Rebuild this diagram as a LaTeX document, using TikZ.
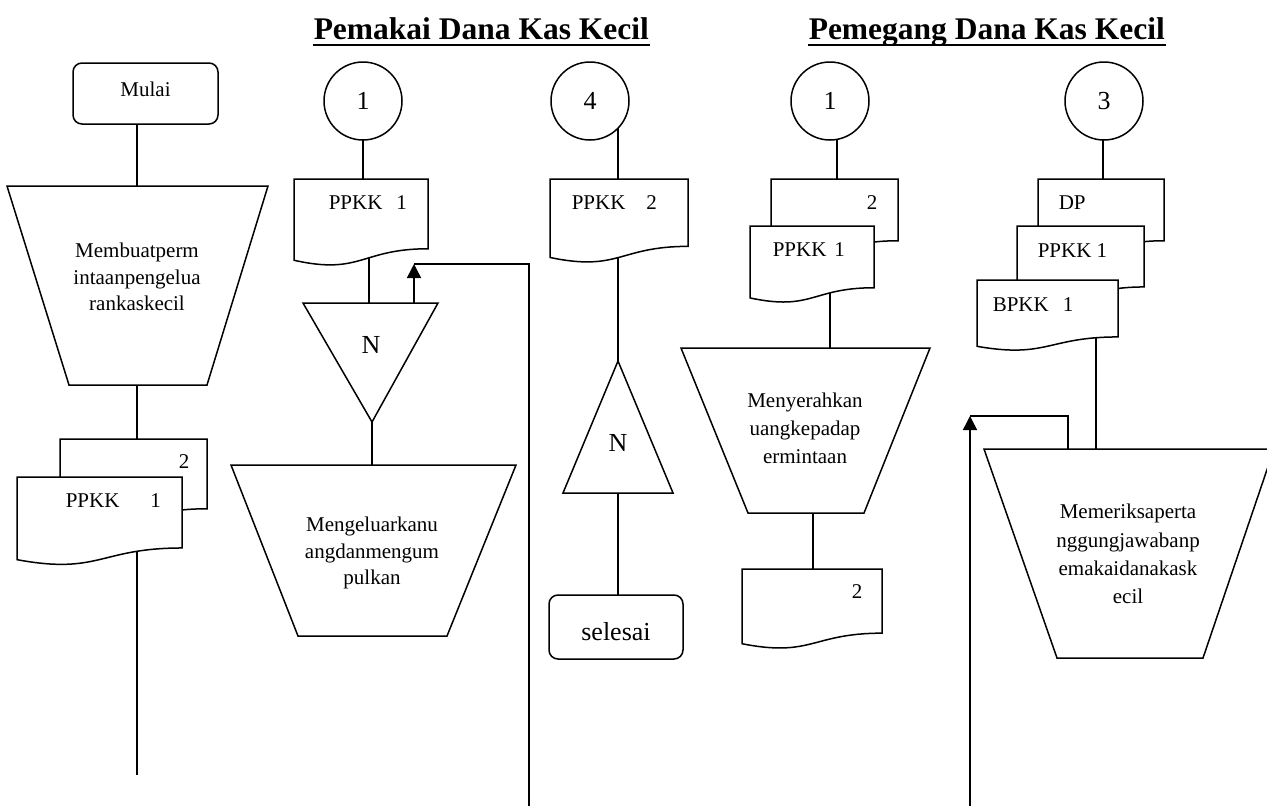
\documentclass[tikz,border=0pt]{standalone}
\usepackage{fontspec}
\setmainfont{Liberation Serif}
\usetikzlibrary{arrows.meta}

% document sheet with a wavy lower edge: top-left x, top y, width, height
\newcommand\docsheet[4]{%
  \draw[shp] (#1,#2) -- ({#1+#3},#2) -- ({#1+#3},{#2+0.802*#4})
    .. controls ({#1+0.5*#3},{#2+0.802*#4}) and ({#1+0.5*#3},{#2+1.107*#4}) ..
    (#1,{#2+0.934*#4}) -- cycle;}

\begin{document}
\begin{tikzpicture}[x=1pt,y=-1pt,line width=1.5pt,
  shp/.style={draw,fill=white},
  txt/.style={font=\fontsize{21}{27.5}\selectfont,inner sep=0pt},
  txta/.style={font=\fontsize{21}{26.5}\selectfont,inner sep=0pt,align=center},
  txtb/.style={font=\fontsize{21}{28.3}\selectfont,inner sep=0pt,align=center},
  big/.style={font=\fontsize{26}{30}\selectfont,inner sep=0pt},
  head/.style={font=\fontsize{31.5}{36}\selectfont\bfseries,inner sep=0pt},
  upflow/.style={-{Triangle[length=14pt,width=14pt]}}]
\clip (0,0) rectangle (1267,806);

% ---------- connection points ----------
% left column
\coordinate (m-b)   at (137,124);
\coordinate (t1-t)  at (137,186);
\coordinate (t1-b)  at (137,385);
\coordinate (d1-t)  at (137,439);
\coordinate (d1-b)  at (137,540);
\coordinate (e1)    at (137,775);
% Pemakai, first flow
\coordinate (c2-b)  at (363,140);
\coordinate (d2-t)  at (363,179);
\coordinate (d2-b)  at (369,230);
\coordinate (n1-t)  at (369,303);
\coordinate (n1-b)  at (372,422);
\coordinate (t2-t)  at (372,465);
\coordinate (r1-s)  at (414,303);
\coordinate (r1-c)  at (414,264);
\coordinate (r1-e)  at (529,806);
% Pemakai, second flow
\coordinate (c3-b)  at (618,115);
\coordinate (d3-t)  at (618,179);
\coordinate (d3-b)  at (618,230);
\coordinate (n2-t)  at (618,361);
\coordinate (n2-b)  at (618,493);
\coordinate (s-t)   at (618,595);
% Pemegang, first flow
\coordinate (c4-b)  at (837,125);
\coordinate (d4-t)  at (837,179);
\coordinate (d4-b)  at (830,280);
\coordinate (t3-t)  at (830,348);
\coordinate (t3-b)  at (813,513);
\coordinate (d5-t)  at (813,569);
% Pemegang, second flow
\coordinate (c5-b)  at (1103,140);
\coordinate (d6-t)  at (1103,179);
\coordinate (d6-b)  at (1096,320);
\coordinate (t4-t)  at (1096,449);
\coordinate (r2-s)  at (970,806);
\coordinate (r2-c)  at (970,416);
\coordinate (r2-e)  at (1068,449);

% ---------- connectors ----------
\draw (m-b) -- (t1-t);
\draw (t1-b) -- (d1-t);
\draw (d1-b) -- (e1);
\draw (c2-b) -- (d2-t);
\draw (d2-b) -- (n1-t);
\draw (n1-b) -- (t2-t);
\draw (r1-e) |- (r1-c);
\draw[upflow] (r1-s) -- (r1-c);
\draw (c3-b) -- (d3-t);
\draw (d3-b) -- (n2-t);
\draw (n2-b) -- (s-t);
\draw (c4-b) -- (d4-t);
\draw (d4-b) -- (t3-t);
\draw (t3-b) -- (d5-t);
\draw (c5-b) -- (d6-t);
\draw (d6-b) -- (t4-t);
\draw (r2-e) |- (r2-c);
\draw[upflow] (r2-s) -- (r2-c);

% ---------- headings ----------
\node[head,anchor=base west] (h1) at (313,39) {Pemakai Dana Kas Kecil};
\draw[line width=2pt] ([yshift=-6pt]h1.base west) -- ([yshift=-6pt]h1.base east);
\node[head,anchor=base west] (h2) at (808,39) {Pemegang Dana Kas Kecil};
\draw[line width=2pt] ([yshift=-6pt]h2.base west) -- ([yshift=-6pt]h2.base east);

% ---------- left column ----------
\node[shp,txt,rounded corners=9pt,minimum width=145pt,minimum height=61pt,
      text height=14pt,text depth=9pt] (mulai) at (145.5,93.5) {Mulai};
\draw[shp] (7,186) -- (268,186) -- (207,385) -- (69,385) -- cycle;
\node[txta] (p1) at (137,277) {Membuatperm\\intaanpengelua\\rankaskecil};
\docsheet{60}{439}{147}{87}
\node[txt,anchor=base west] (p1c2) at (178,468) {2};
\docsheet{17}{477}{165}{88.5}
\node[txt,anchor=base west] (p1c1) at (65,507) {PPKK\hspace{31pt}1};

% ---------- Pemakai, first flow ----------
\node[shp,big,circle,minimum size=78pt] (c2) at (363,101) {1};
\docsheet{294}{179}{134}{87}
\node[txt,anchor=base west] (d2) at (328,209) {PPKK\hspace{14pt}1};
\draw[shp] (303,303) -- (438,303) -- (372,422) -- cycle;
\node[big,anchor=base] (n1) at (371,353) {N};
\draw[shp] (231,465) -- (516,465) -- (447,636) -- (298,636) -- cycle;
\node[txta] (p2) at (372,553) {Mengeluarkanu\\angdanmengum\\pulkan};

% ---------- Pemakai, second flow ----------
\node[shp,big,circle,minimum size=78pt] (c3) at (590,101) {4};
\docsheet{550}{179}{138}{84}
\node[txt,anchor=base west] (d3) at (571,209) {PPKK\hspace{21pt}2};
\draw[shp] (618,361) -- (673,493) -- (563,493) -- cycle;
\node[big,anchor=base] (n2) at (618,451) {N};
\node[shp,big,rounded corners=9pt,minimum width=134pt,minimum height=64pt,
      text height=26pt,text depth=0pt] (selesai) at (616,627) {selesai};

% ---------- Pemegang, first flow ----------
\node[shp,big,circle,minimum size=78pt] (c4) at (830,101) {1};
\docsheet{771}{179}{127}{77}
\node[txt,anchor=base west] (d4b) at (866,209) {2};
\docsheet{750}{226}{124}{77}
\node[txt,anchor=base west] (d4) at (772,256) {PPKK\hspace{8pt}1};
\draw[shp] (681,348) -- (930,348) -- (864,513) -- (748,513) -- cycle;
\node[txtb] (p3) at (805,428.5) {Menyerahkan\\uangkepadap\\ermintaan};
\docsheet{742}{569}{140}{80}
\node[txt,anchor=base west] (d5) at (851,598) {2};

% ---------- Pemegang, second flow ----------
\node[shp,big,circle,minimum size=78pt] (c5) at (1104,101) {3};
\docsheet{1038}{179}{126}{77}
\node[txt,anchor=base west] (d6a) at (1058,209) {DP};
\docsheet{1017}{226}{127}{76}
\node[txt,anchor=base west] (d6b) at (1037,257) {PPKK 1};
\docsheet{977}{280}{141}{71}
\node[txt,anchor=base west] (d6c) at (992,311) {BPKK\hspace{14pt}1};
\draw[shp] (984,449) -- (1274,449) -- (1203,658) -- (1057,658) -- cycle;
\node[txtb] (p4) at (1128,554) {Memeriksaperta\\nggungjawabanp\\emakaidanakask\\ecil};
\end{tikzpicture}
\end{document}
